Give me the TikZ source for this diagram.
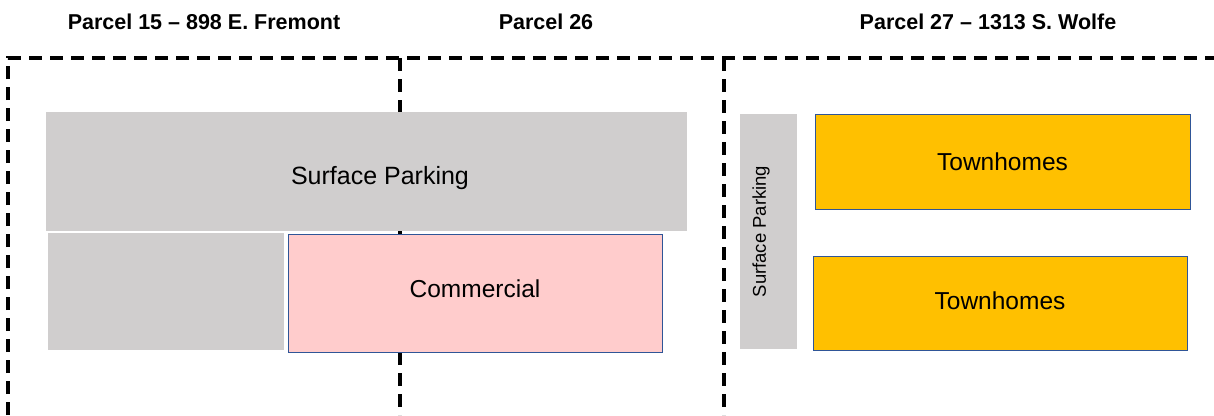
\documentclass[tikz,border=0pt]{standalone}
\usepackage{fontspec}
\setmainfont{Liberation Sans}
\definecolor{parkgray}{HTML}{D0CECE}
\definecolor{compink}{HTML}{FFCCCC}
\definecolor{townor}{HTML}{FFC000}
\definecolor{edgeblue}{HTML}{2F5597}
\tikzset{
  lot/.style={draw=none, fill=parkgray, inner sep=0pt, outer sep=0pt},
  bldg/.style={draw=edgeblue, line width=1pt, inner sep=0pt, outer sep=0pt},
  boundary/.style={line width=3.4pt, dash pattern=on 13pt off 8pt},
  head/.style={font=\fontsize{21.5}{25}\selectfont\bfseries, inner sep=0pt},
  lbl/.style={font=\fontsize{24.5}{28}\selectfont, inner sep=0pt},
}
\begin{document}
\begin{tikzpicture}[x=1pt,y=-1pt]
\useasboundingbox (0,0) rectangle (1214,415);
% headings
\node[head] (h15) at (204,22) {Parcel 15 – 898 E. Fremont};
\node[head] (h26) at (546,22) {Parcel 26};
\node[head] (h27) at (988,22) {Parcel 27 – 1313 S. Wolfe};
% parcel boundaries
\coordinate (tl) at (8,58);
\coordinate (tr) at (1214,58);
\coordinate (bl) at (8,415);
\coordinate (m1t) at (400,58);
\coordinate (m1b) at (400,415);
\coordinate (m2t) at (724,58);
\coordinate (m2b) at (724,415);
\draw[boundary] (bl) -- (tl) -- (tr);
\draw[boundary] (m1t) -- (m1b);
\draw[boundary] (m2t) -- (m2b);
% parcel 15 / 26
\node[lot, minimum width=641pt, minimum height=119pt] (park) at (366.5,171.5) {};
\node[lbl, font=\fontsize{25}{29}\selectfont] (parklbl) at (380,178) {Surface Parking};
\node[lot, minimum width=236pt, minimum height=117pt] (lot2) at (166,291) {};
\node[bldg, fill=compink, minimum width=373.5pt, minimum height=118pt] (comm) at (475.25,293) {};
\node[lbl] (commlbl) at (475,289) {Commercial};
% parcel 27
\node[lot, minimum width=57pt, minimum height=235pt] (park2) at (768.5,231.5) {};
\node[font=\fontsize{18.5}{22}\selectfont, inner sep=0pt, rotate=90] (park2lbl) at (761,231.5) {Surface Parking};
\node[bldg, fill=townor, minimum width=375pt, minimum height=95pt] (th1) at (1002.5,161.5) {};
\node[lbl] (th1lbl) at (1002.5,162) {Townhomes};
\node[bldg, fill=townor, minimum width=374pt, minimum height=94pt] (th2) at (1000,303) {};
\node[lbl] (th2lbl) at (1000,301) {Townhomes};
\end{tikzpicture}
\end{document}
